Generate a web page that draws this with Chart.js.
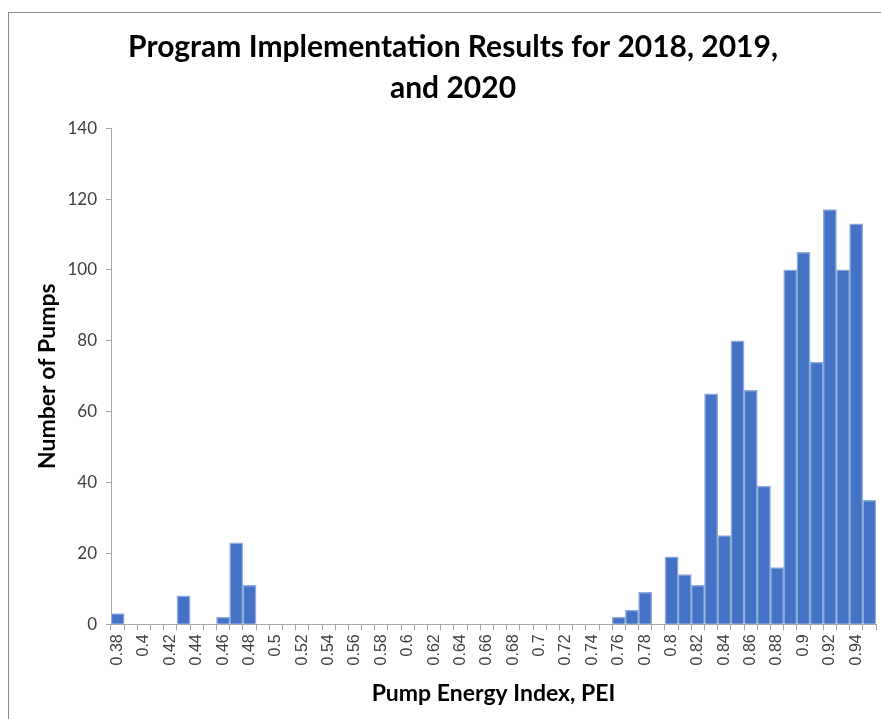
<!DOCTYPE html>
<html>
<head>
<meta charset="utf-8">
<script src="https://cdn.jsdelivr.net/npm/chart.js@4/dist/chart.umd.min.js"></script>
<style>
  html, body { margin: 0; padding: 0; background: #fff; }
  #wrap { position: relative; width: 881px; height: 719px; overflow: hidden; }
  #frame { position: absolute; left: 8px; top: 12px; width: 1000px; height: 1000px;
           border-left: 1px solid #8c8c8c; border-top: 1px solid #8c8c8c; }
  canvas { position: absolute; left: 0; top: 0; }
</style>
</head>
<body>
<div id="wrap">
  <div id="frame"></div>
  <canvas id="c" width="881" height="719"></canvas>
</div>
<script>
const categories = [
  0.38, 0.39, 0.4, 0.41, 0.42, 0.43, 0.44, 0.45, 0.46, 0.47, 0.48,
  0.49, 0.5, 0.51, 0.52, 0.53, 0.54, 0.55, 0.56, 0.57, 0.58, 0.59,
  0.6, 0.61, 0.62, 0.63, 0.64, 0.65, 0.66, 0.67, 0.68, 0.69, 0.7,
  0.71, 0.72, 0.73, 0.74, 0.75, 0.76, 0.77, 0.78, 0.79, 0.8, 0.81,
  0.82, 0.83, 0.84, 0.85, 0.86, 0.87, 0.88, 0.89, 0.9, 0.91, 0.92,
  0.93, 0.94, 0.95
];
const pumpCounts = [
  3, 0, 0, 0, 0, 8, 0, 0, 2, 23, 11,
  0, 0, 0, 0, 0, 0, 0, 0, 0, 0, 0,
  0, 0, 0, 0, 0, 0, 0, 0, 0, 0, 0,
  0, 0, 0, 0, 0, 2, 4, 9, 0, 19, 14,
  11, 65, 25, 80, 66, 39, 16, 100, 105, 74, 117,
  100, 113, 35
];
const yTicks = [0, 20, 40, 60, 80, 100, 120, 140];
const titleLines = ['Program Implementation Results for 2018, 2019,', 'and 2020'];
const xTitle = 'Pump Energy Index, PEI';
const yTitle = 'Number of Pumps';

new Chart(document.getElementById('c'), {
  type: 'bar',
  data: {
    labels: categories.map(String),
    datasets: [{
      data: pumpCounts,
      backgroundColor: '#4472C4',
      borderColor: '#8FAADC',
      borderWidth: 1.5,
      barPercentage: 1,
      categoryPercentage: 1
    }]
  },
  options: {
    responsive: false,
    animation: false,
    layout: { padding: { left: 30, right: 5, top: 0, bottom: 12 } },
    plugins: {
      legend: { display: false },
      tooltip: { enabled: false },
      title: {
        display: true,
        text: titleLines,
        color: '#000',
        font: { family: 'Lato, "Open Sans", sans-serif', size: 30, weight: 'bold', lineHeight: 1.37 },
        padding: { top: 27, bottom: 19 }
      }
    },
    scales: {
      x: {
        afterFit: function (s) { s.paddingRight = 0; s.paddingLeft = 0; },
        grid: { display: true, drawOnChartArea: false, drawTicks: true, tickLength: 6, color: '#A6A6A6', offset: true },
        border: { display: true, color: '#A6A6A6', width: 1 },
        ticks: {
          autoSkip: false, minRotation: 90, maxRotation: 90, padding: 4,
          color: '#404040',
          font: { family: '"Liberation Sans", Arial, sans-serif', size: 16 },
          callback: function (v, i) { return i % 2 === 0 ? String(categories[i]) : ''; }
        },
        title: {
          display: true, text: xTitle, color: '#000',
          font: { family: 'Lato, "Open Sans", sans-serif', size: 23, weight: 'bold' },
          padding: { top: 10, bottom: 0 }
        }
      },
      y: {
        min: 0, max: 140,
        afterBuildTicks: function (s) { s.ticks = yTicks.map(v => ({ value: v })); },
        afterFit: function (s) { s.width = 81; },
        grid: { display: true, drawOnChartArea: false, drawTicks: true, tickLength: 5, color: '#A6A6A6' },
        border: { display: true, color: '#A6A6A6', width: 1 },
        ticks: {
          padding: 9, color: '#404040',
          font: { family: 'Lato, "Open Sans", sans-serif', size: 17 }
        },
        title: {
          display: true, text: yTitle, color: '#000',
          font: { family: 'Lato, "Open Sans", sans-serif', size: 23, weight: 'bold' },
          padding: { top: 4, bottom: 0 }
        }
      }
    }
  }
});
</script>
</body>
</html>
